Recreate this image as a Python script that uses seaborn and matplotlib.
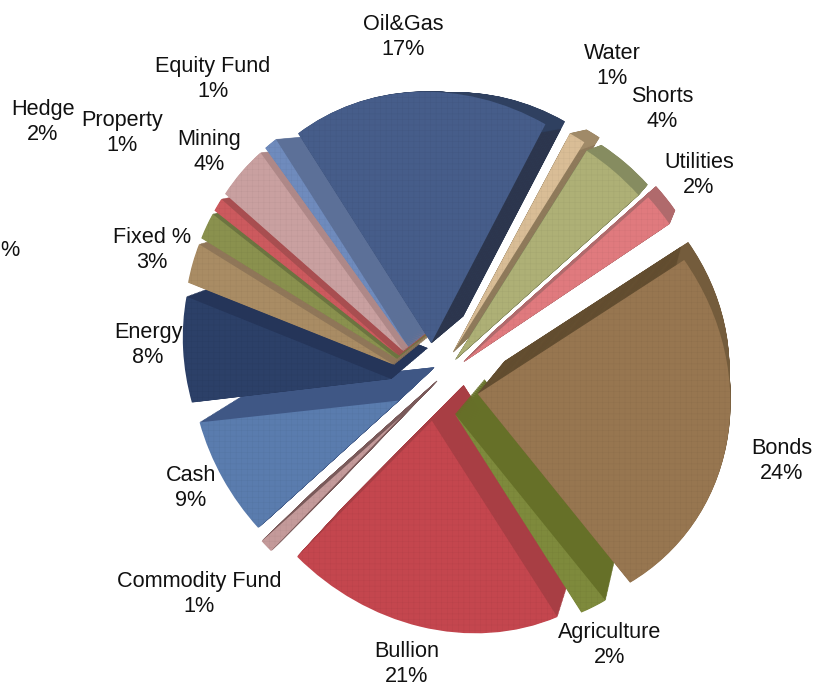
import matplotlib
matplotlib.use("Agg")
import matplotlib.pyplot as plt
from matplotlib.transforms import Affine2D, Transform
import numpy as np
import seaborn as sns

# Portfolio shares, clockwise from the top of the pie
sectors = ["Oil&Gas", "Water", "Shorts", "Utilities", "Bonds", "Agriculture", "Bullion",
           "Commodity Fund", "Cash", "Energy", "Fixed %", "Hedge", "Property", "Mining", "Equity Fund"]
shares = [17, 1, 4, 2, 24, 2, 21, 1, 9, 8, 3, 2, 1, 4, 1]

face_hex = ["#465d8a", "#d9bd96", "#aeb076", "#e07a7e", "#977650", "#7e8a3c", "#c4464e",
            "#c49a9a", "#5a7cae", "#2c4068", "#a98c64", "#8a914e", "#cc5a5e", "#c9a0a0", "#6f8bbd"]
side_hex = ["#2c3549", "#8a7658", "#7a7f58", "#b06a6c", "#5e4a2e", "#667028", "#a83e44",
            "#7a5a5a", "#3f5785", "#253559", "#8f7658", "#6c7440", "#a84e50", "#ae8888", "#5c7098"]
rim_hex = ["#2f4060", "#a08a68", "#868c60", "#b06a6c", "#745c3c", "#667028", "#a83e44",
           "#7a5a5a", "#3f5785", "#253559", "#8f7658", "#6c7440", "#a84e50", "#ae8888", "#5c7098"]

# Radial offset of each slice from the pie centre
pull = [0.18, 0.17, 0.15, 0.17, 0.19, 0.15, 0.16, 0.21, 0.18, 0.19, 0.19, 0.19, 0.19, 0.19, 0.19]

# Centre of each two-line caption, in pixels from the top-left corner
caption_xy = [(403, 37), (612, 66), (662, 109), (699, 175), (782, 461), (610, 645), (407, 664),
              (199, 594), (191, 488), (148, 345), (152, 250), (43, 122), (122, 133), (209, 152), (213, 79)]

WIDTH, HEIGHT = 825, 686
sns.set_theme(style="white")
plt.rcParams["font.family"] = ["Liberation Sans", "DejaVu Sans"]
plt.rcParams["hatch.linewidth"] = 0.35
face_colors = sns.color_palette(face_hex)
side_colors = sns.color_palette(side_hex)
rim_colors = sns.color_palette(rim_hex)


class TiltedPlane(Transform):
    """Perspective view of the pie plane, nearer at the upper right."""
    input_dims = 2
    output_dims = 2
    has_inverse = False

    def __init__(self, cx, cy, rx, ry, kx, ky, shear):
        super().__init__()
        self.p = (cx, cy, rx, ry, kx, ky, shear)

    def transform_non_affine(self, values):
        cx, cy, rx, ry, kx, ky, shear = self.p
        x, y = values[:, 0], values[:, 1]
        w = 1 - kx * x - ky * y
        return np.column_stack([cx + rx * x / w, cy + ry * (y + shear * x) / w])


plane = TiltedPlane(434, HEIGHT - 385, 228, 228, 0.07, 0.07, -0.115)
VANISH = (720, HEIGHT - 100)


def toward_vanishing_point(scale):
    return Affine2D().translate(-VANISH[0], -VANISH[1]).scale(scale).translate(*VANISH)


fig = plt.figure(figsize=(WIDTH / 100, HEIGHT / 100), dpi=100)
ax = fig.add_axes([0, 0, 1, 1])


def draw_layer(colors, scale, edge=None, radius=1.0, **wedge_kw):
    wedges, _ = ax.pie(shares, explode=pull, startangle=124.5, counterclock=False, colors=colors,
                       radius=radius, wedgeprops=wedge_kw)
    for i, wedge in enumerate(wedges):
        wedge.set_transform(plane + toward_vanishing_point(scale) + ax.transData)
        if edge is not None:
            wedge.set_edgecolor(edge[i])


# Extruded sides: the outline swept from back plane to front plane, rim first,
# then the flat radial walls just inside it
for depth in np.linspace(0.89, 0.998, 44):
    draw_layer(rim_colors, depth, edge=rim_colors, linewidth=0.4)
    draw_layer(side_colors, depth, edge=side_colors, radius=0.965, linewidth=0.4)

# Front faces, then a fine woven texture over them
draw_layer(face_colors, 1.0, linewidth=0)
draw_layer(["none"] * len(shares), 1.0, linewidth=0, hatch="+++", edgecolor=(0, 0, 0, 0.05))

ax.set_xlim(0, WIDTH)
ax.set_ylim(0, HEIGHT)
ax.set_aspect("auto")
ax.set_axis_off()

for name, share, (px, py) in zip(sectors, shares, caption_xy):
    ax.text(px, HEIGHT - py, f"{name}\n{share}%", ha="center", va="center",
            fontsize=15.6, color="#111111", linespacing=1.27)
ax.text(10, HEIGHT - 250, "%", ha="center", va="center", fontsize=15.6, color="#111111")

fig.savefig("out.png", dpi=100)
